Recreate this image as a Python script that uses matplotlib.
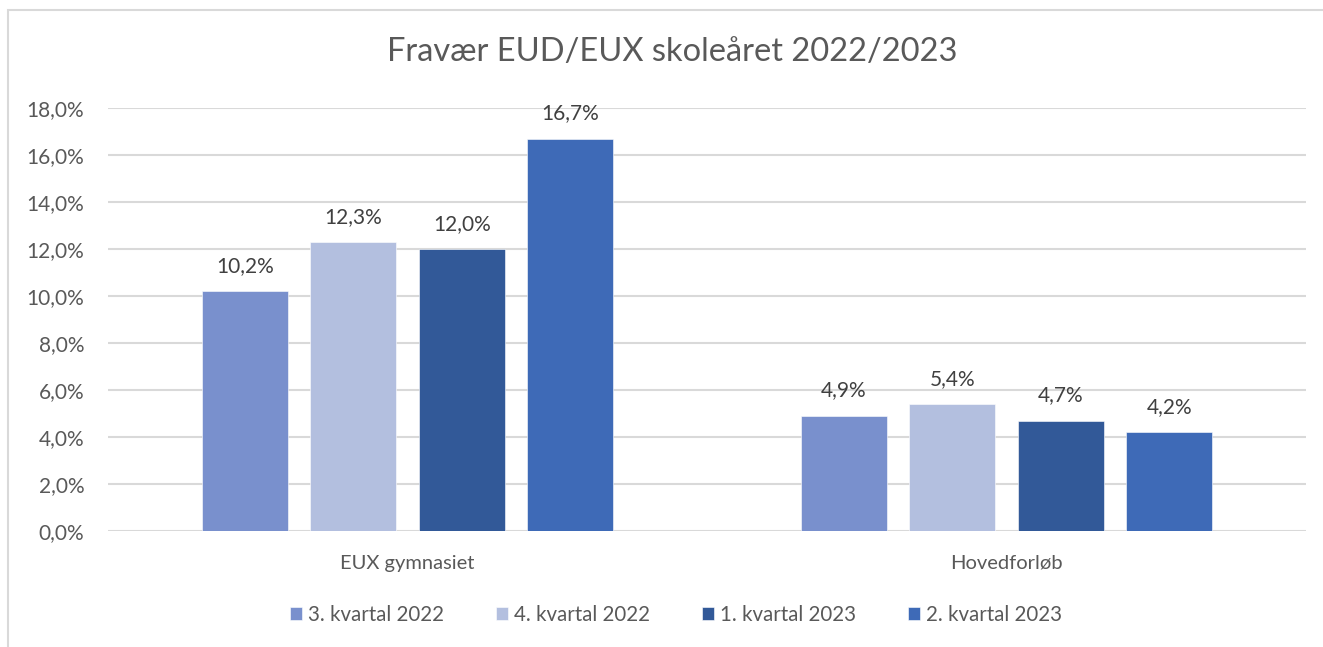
import numpy as np
import matplotlib
matplotlib.use("Agg")
import matplotlib.pyplot as plt
from matplotlib.patches import Rectangle

# -----------------------------
# data
# -----------------------------
title = "Fravær EUD/EUX skoleåret 2022/2023"
categories = ["EUX gymnasiet", "Hovedforløb"]
series_names = ["3. kvartal 2022", "4. kvartal 2022", "1. kvartal 2023", "2. kvartal 2023"]
values = [
    [0.102, 0.049],
    [0.123, 0.054],
    [0.120, 0.047],
    [0.167, 0.042],
]
colors = ["#7990CD", "#B3BFDF", "#325998", "#3E6AB7"]
yticks = np.arange(0, 0.181, 0.02)

plt.rcParams["font.family"] = ["Lato", "DejaVu Sans"]
text_col = "#595959"

fig = plt.figure(figsize=(13.23, 6.47), dpi=100)
ax = fig.add_axes([108 / 1323, 1 - 531 / 647, (1306 - 108) / 1323, (531 - 108) / 647])

# outer chart frame (partly cut off like the screenshot)
fig.patches.append(Rectangle((8 / 1323, -0.1), 1.2, 1 - 9.5 / 647 + 0.1,
                             transform=fig.transFigure, fill=False,
                             edgecolor="#D9D9D9", linewidth=1.5))

x = np.arange(len(categories))
width = 0.1436
step = 0.1811
n = len(series_names)
for i, (name, vals, c) in enumerate(zip(series_names, values, colors)):
    pos = x + (i - (n - 1) / 2) * step
    bars = ax.bar(pos, vals, width, color=c, label=name, zorder=3,
                  edgecolor="white", linewidth=0.4)
    for b, v in zip(bars, vals):
        ax.annotate(f"{v * 100:.1f}%".replace(".", ","),
                    (b.get_x() + b.get_width() / 2, v),
                    xytext=(0, 11), textcoords="offset points",
                    ha="center", va="bottom", fontsize=15, color="#404040")

ax.set_xlim(-0.5, 1.5)
ax.set_ylim(0, 0.18)
ax.set_yticks(yticks)
ax.set_yticklabels([f"{t * 100:.1f}%".replace(".", ",") for t in yticks])
ax.set_xticks(x)
ax.set_xticklabels(categories)
ax.tick_params(axis="both", length=0, colors=text_col)
ax.tick_params(axis="y", pad=17, labelsize=15)
ax.tick_params(axis="x", pad=17, labelsize=14.5)
ax.grid(axis="y", color="#D9D9D9", linewidth=1.5, zorder=0)
for s in ax.spines.values():
    s.set_visible(False)

fig.text(672 / 1323, 1 - 52 / 647, title, ha="center", va="center",
         fontsize=23.5, color=text_col)

fig.legend(loc="center", bbox_to_anchor=(676 / 1323, 1 - 615 / 647), ncol=4,
           frameon=False, fontsize=14.8, handlelength=0.6, handleheight=0.6,
           handletextpad=0.3, columnspacing=2.5, labelcolor=text_col)

fig.savefig("out.png", dpi=100)
